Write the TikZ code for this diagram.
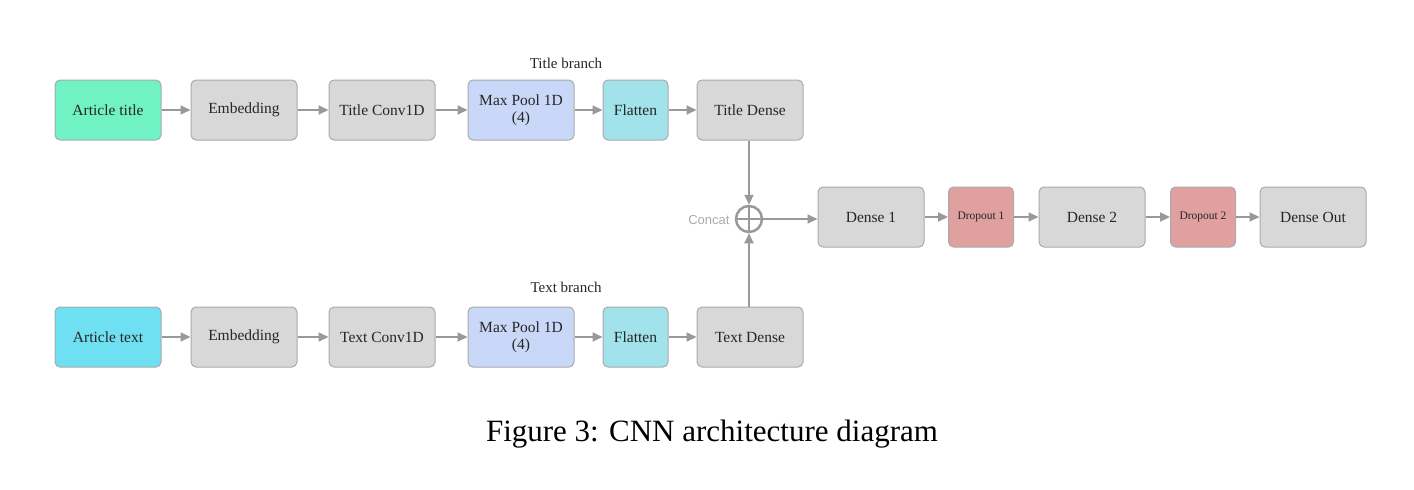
\documentclass[tikz,border=0pt]{standalone}
\usepackage{fontspec}
\setmainfont{Liberation Serif}
\newfontfamily\capfont{Liberation Serif}
\newfontfamily\sansf{Liberation Sans}
\usetikzlibrary{arrows.meta}
\definecolor{boxgray}{HTML}{D8D8D8}
\definecolor{edgegray}{HTML}{AAAAAA}
\definecolor{arrgray}{HTML}{999999}
\definecolor{mint}{HTML}{70F2C4}
\definecolor{cyanb}{HTML}{6EE0F2}
\definecolor{poolblue}{HTML}{C9D8F8}
\definecolor{flatteal}{HTML}{A2E2EA}
\definecolor{dropred}{HTML}{E0A0A0}
\definecolor{txt}{HTML}{262626}
\tikzset{
  layer/.style={draw=edgegray, line width=1pt, rounded corners=5pt, fill=boxgray,
    minimum width=106pt, minimum height=60pt, inner sep=0pt, align=center,
    font=\fontsize{15.5}{17}\selectfont, text=txt},
  small/.style={layer, minimum width=65pt},
  conn/.style={draw=arrgray, line width=1.8pt, -{Triangle[length=10pt,width=9pt]}},
  lbl/.style={font=\fontsize{15}{17}\selectfont, text=txt}
}
\begin{document}
\begin{tikzpicture}[x=1pt,y=-1pt]
\useasboundingbox (0,0) rectangle (1414,490);
% top row
\node[layer, fill=mint] (at) at (108,110) {Article title};
\node[layer] (e1) at (244,110) {Embedding};
\node[layer] (c1) at (382,110) {Title Conv1D};
\node[layer, fill=poolblue] (p1) at (521,110) {Max Pool 1D\\(4)};
\node[small, fill=flatteal] (f1) at (635.5,110) {Flatten};
\node[layer] (d1) at (750,110) {Title Dense};
\node[lbl] (tb) at (566,63) {Title branch};
% bottom row
\node[layer, fill=cyanb] (ax) at (108,337) {Article text};
\node[layer] (e2) at (244,337) {Embedding};
\node[layer] (c2) at (382,337) {Text Conv1D};
\node[layer, fill=poolblue] (p2) at (521,337) {Max Pool 1D\\(4)};
\node[small, fill=flatteal] (f2) at (635.5,337) {Flatten};
\node[layer] (d2) at (750,337) {Text Dense};
\node[lbl] (xb) at (566,287) {Text branch};
% concat
\node[circle, draw=arrgray, line width=2.5pt, minimum size=26pt, inner sep=0pt] (cc) at (749,219) {};
\draw[arrgray, line width=2.5pt] (cc.north) -- (cc.south) (cc.west) -- (cc.east);
\node[font=\sansf\fontsize{13}{15}\selectfont, text=edgegray, anchor=east] (cl) at (733,220) {Concat};
% right chain
\node[layer] (h1) at (871,217) {Dense 1};
\node[small, fill=dropred, font=\fontsize{11.5}{13}\selectfont] (o1) at (981,217) {Dropout 1};
\node[layer] (h2) at (1092,217) {Dense 2};
\node[small, fill=dropred, font=\fontsize{11.5}{13}\selectfont] (o2) at (1203,217) {Dropout 2};
\node[layer] (ho) at (1313,217) {Dense Out};
% connectors
\draw[conn] (at) -- (e1);
\draw[conn] (e1) -- (c1);
\draw[conn] (c1) -- (p1);
\draw[conn] (p1) -- (f1);
\draw[conn] (f1) -- (d1);
\draw[conn] (ax) -- (e2);
\draw[conn] (e2) -- (c2);
\draw[conn] (c2) -- (p2);
\draw[conn] (p2) -- (f2);
\draw[conn] (f2) -- (d2);
\draw[conn] (d1.south -| cc.north) -- (cc.north);
\draw[conn] (d2.north -| cc.south) -- (cc.south);
\draw[conn] (cc.east) -- (h1.west |- cc.east);
\draw[conn] (h1) -- (o1);
\draw[conn] (o1) -- (h2);
\draw[conn] (h2) -- (o2);
\draw[conn] (o2) -- (ho);
% caption
\node[font=\capfont\fontsize{31}{35}\selectfont] (cap) at (712,434) {Figure 3: CNN architecture diagram};
\end{tikzpicture}
\end{document}
